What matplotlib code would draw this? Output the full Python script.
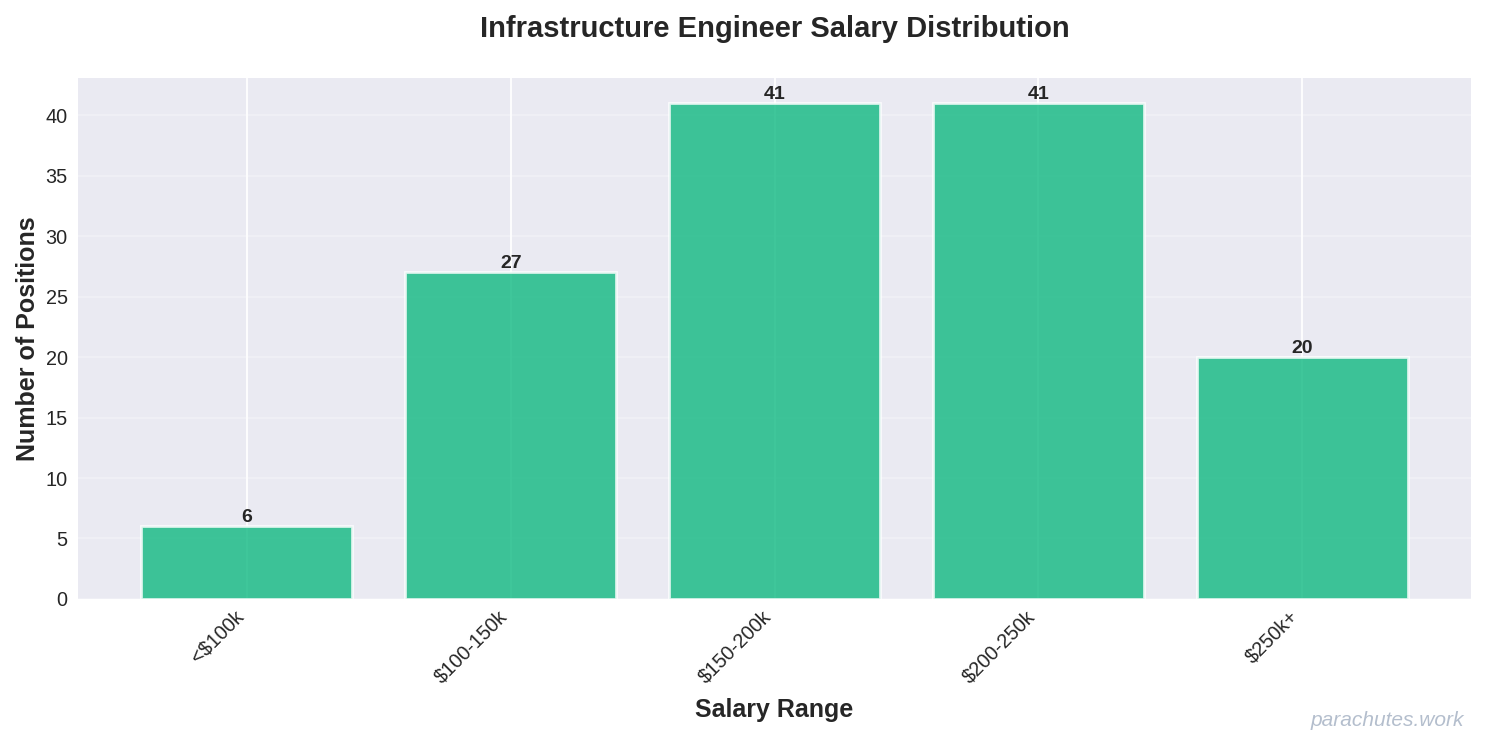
import matplotlib
matplotlib.use("Agg")
import matplotlib.pyplot as plt

categories = ["<$100k", "$100-150k", "$150-200k", "$200-250k", "$250k+"]
counts = [6, 27, 41, 41, 20]

plt.style.use("seaborn-v0_8-darkgrid")
plt.rcParams["font.family"] = ["Liberation Sans", "DejaVu Sans"]
plt.rcParams["grid.linewidth"] = 1.3

fig, ax = plt.subplots(figsize=(14.86, 7.45), dpi=100)
fig.subplots_adjust(left=0.0525, right=0.99, top=0.895, bottom=0.196)

x = list(range(len(categories)))
bars = ax.bar(x, counts, width=0.8, color="#10b981", alpha=0.8,
              edgecolor="white", linewidth=2)
ax.grid(True, axis="y", alpha=0.3)
ax.set_axisbelow(True)

for xi, v in zip(x, counts):
    ax.text(xi, v, str(v), ha="center", va="bottom", fontsize=14,
            fontweight="bold", color="#262626")

ax.set_xticks(x)
ax.set_xticklabels(categories, rotation=45, ha="right", fontsize=14.3)
ax.tick_params(axis="y", labelsize=14.3, pad=7.5)
ax.tick_params(axis="x", pad=5.5)
ax.set_xlabel("Salary Range", fontsize=18, fontweight="bold", labelpad=8)
ax.set_ylabel("Number of Positions", fontsize=18, fontweight="bold")
ax.set_title("Infrastructure Engineer Salary Distribution", fontsize=21,
             fontweight="bold", pad=30)

fig.text(0.985, 0.02, "parachutes.work", ha="right", va="bottom",
         fontsize=15, style="italic", color="#94a3b8", alpha=0.7)

fig.savefig("out.png", dpi=100)
